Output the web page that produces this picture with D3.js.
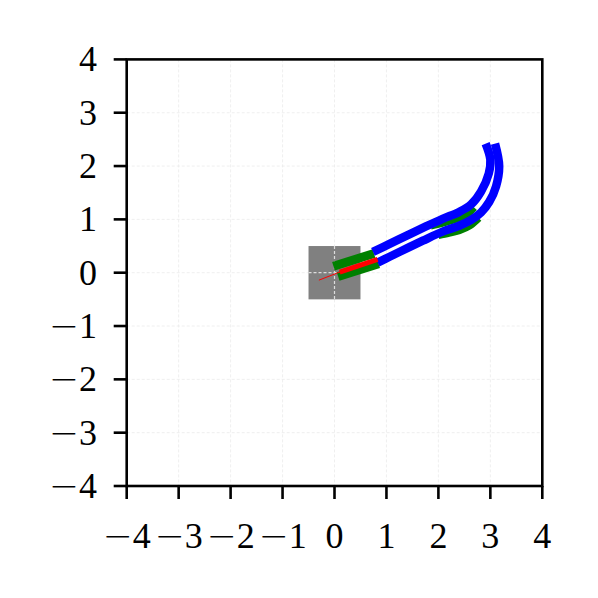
<!DOCTYPE html>
<html><head><meta charset="utf-8">
<script src="https://cdn.jsdelivr.net/npm/d3@7"></script>
<style>body{margin:0;background:#fff}svg{display:block}</style>
</head><body>
<script>
const xTicks = [-4,-3,-2,-1,0,1,2,3,4];
const yTicks = [-4,-3,-2,-1,0,1,2,3,4];
const egoBox = {x0:-0.5, x1:0.5, y0:-0.5, y1:0.5};
const greenUpperA = [[-0.02,0.12],[0.76,0.36]];
const greenLowerA = [[0.07,-0.07],[0.85,0.17]];
const greenUpperB = [[1.85,0.89],[2.1,0.95],[2.35,1.02],[2.55,1.11],[2.68,1.23]];
const greenLowerB = [[2.0,0.71],[2.2,0.75],[2.4,0.8],[2.6,0.89],[2.77,1.03]];
const blueUpper = [[0.74,0.39],[1.06,0.54],[1.44,0.72],[1.7,0.84],[2.08,1.01],[2.4,1.14],[2.63,1.28],[2.82,1.52],[2.97,1.86],[3.0,2.12],[2.91,2.42]];
const blueLower = [[0.83,0.19],[1.06,0.30],[1.44,0.48],[1.7,0.60],[2.08,0.77],[2.4,0.88],[2.63,0.99],[2.82,1.13],[2.98,1.33],[3.11,1.62],[3.17,2.0],[3.09,2.42]];
const redThick = [[0.1,0.01],[0.83,0.25]];
const redThin = [[-0.3,-0.14],[0.12,0.02]];

const W=598,H=598;
const svg=d3.select("body").append("svg").attr("width",W).attr("height",H);
const x=d3.scaleLinear().domain([-4,4]).range([126.7,542.3]);
const y=d3.scaleLinear().domain([-4,4]).range([486,59.4]);
const font="'Liberation Serif', 'DejaVu Serif', serif";

// grid
const g=svg.append("g");
g.selectAll(".gx").data(xTicks).join("line")
 .attr("x1",d=>x(d)).attr("x2",d=>x(d)).attr("y1",y(4)).attr("y2",y(-4))
 .attr("stroke","#ebebeb").attr("stroke-width",0.8).attr("stroke-dasharray","3,2");
g.selectAll(".gy").data(yTicks).join("line")
 .attr("y1",d=>y(d)).attr("y2",d=>y(d)).attr("x1",x(-4)).attr("x2",x(4))
 .attr("stroke","#ebebeb").attr("stroke-width",0.8).attr("stroke-dasharray","3,2");

// ego box
svg.append("rect").attr("x",x(egoBox.x0)).attr("y",y(egoBox.y1))
 .attr("width",x(egoBox.x1)-x(egoBox.x0)).attr("height",y(egoBox.y0)-y(egoBox.y1))
 .attr("fill","#808080");
svg.append("line").attr("x1",x(0)).attr("x2",x(0)).attr("y1",y(egoBox.y1)).attr("y2",y(egoBox.y0))
 .attr("stroke","#dddddd").attr("stroke-width",1.2).attr("stroke-dasharray","3,2");
svg.append("line").attr("x1",x(egoBox.x0)).attr("x2",x(egoBox.x1)).attr("y1",y(0)).attr("y2",y(0))
 .attr("stroke","#dddddd").attr("stroke-width",1.2).attr("stroke-dasharray","3,2");

const line=d3.line().x(d=>x(d[0])).y(d=>y(d[1])).curve(d3.curveCatmullRom.alpha(0.5));
function draw(data,color,w){
 svg.append("path").attr("d",line(data)).attr("fill","none").attr("stroke",color)
  .attr("stroke-width",w).attr("stroke-linecap","butt").attr("stroke-linejoin","round");
}
draw(greenUpperA,"#008000",9);
draw(greenLowerA,"#008000",9);
draw(greenUpperB,"#008000",8.5);
draw(greenLowerB,"#008000",8.5);
draw(blueUpper,"#0000ff",8.5);
draw(blueLower,"#0000ff",8.5);
draw(redThin,"#ff0000",1);
draw(redThick,"#ff0000",5);

// frame
svg.append("rect").attr("x",x(-4)).attr("y",y(4)).attr("width",x(4)-x(-4)).attr("height",y(-4)-y(4))
 .attr("fill","none").attr("stroke","#000").attr("stroke-width",2.6);

// ticks
svg.selectAll(".tx").data(xTicks).join("line")
 .attr("x1",d=>x(d)).attr("x2",d=>x(d)).attr("y1",y(-4)).attr("y2",y(-4)+13)
 .attr("stroke","#000").attr("stroke-width",2.6);
svg.selectAll(".ty").data(yTicks).join("line")
 .attr("y1",d=>y(d)).attr("y2",d=>y(d)).attr("x1",x(-4)).attr("x2",x(-4)-13)
 .attr("stroke","#000").attr("stroke-width",2.6);

function label(sel,d){
 if(d<0){
  sel.append("tspan").attr("font-family","'DejaVu Sans', sans-serif").attr("font-weight","200").text("\u2212");
  sel.append("tspan").text(String(Math.abs(d)));
 } else sel.text(String(d));
}
svg.selectAll(".lx").data(xTicks).join("text")
 .attr("x",d=>x(d)).attr("y",548).attr("text-anchor","middle")
 .attr("font-family",font).attr("font-size",36).each(function(d){label(d3.select(this),d);});
svg.selectAll(".ly").data(yTicks).join("text")
 .attr("x",97).attr("y",d=>y(d)+12).attr("text-anchor","end")
 .attr("font-family",font).attr("font-size",36).each(function(d){label(d3.select(this),d);});
</script>
</body></html>
